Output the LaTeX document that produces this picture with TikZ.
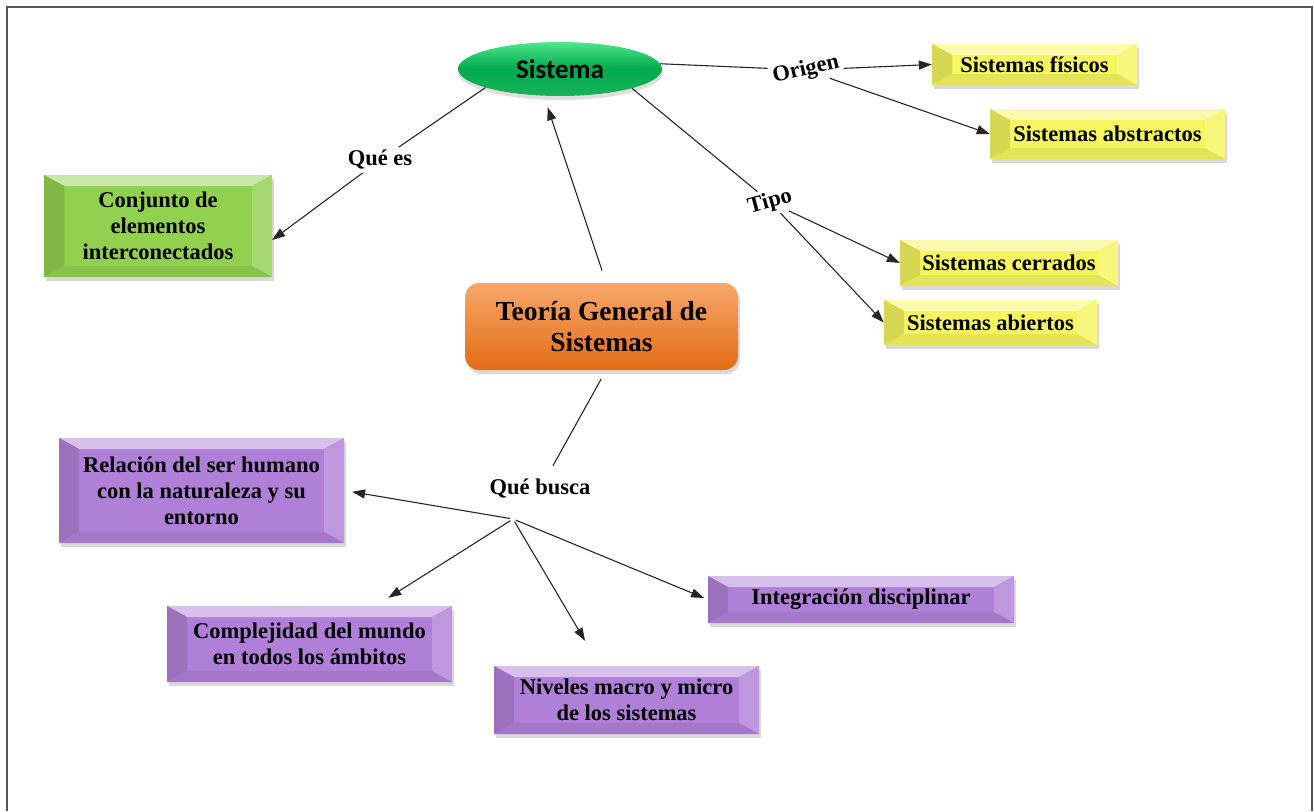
\documentclass[tikz,border=0pt]{standalone}
\usepackage{fontspec}
\setmainfont{Liberation Serif}
\newfontfamily\sysfont{Carlito}
\usetikzlibrary{arrows.meta, positioning, shapes.geometric, shadows}

\definecolor{LeafGreen}{RGB}{146,208,80}
\definecolor{SysGreen}{RGB}{0,170,75}
\definecolor{SysGreenTop}{RGB}{80,230,140}
\definecolor{Tangerine}{RGB}{228,108,22}
\definecolor{TangerineTop}{RGB}{246,168,105}
\definecolor{Lemon}{RGB}{245,245,95}
\definecolor{Lilac}{RGB}{176,128,216}
\definecolor{FrameGray}{RGB}{85,85,85}

\newcommand{\bevx}{20pt}
\newcommand{\bevy}{11pt}
\newcommand{\boxfont}{\bfseries\fontsize{22.5pt}{26pt}\selectfont}

\tikzset{
  bevelbox/.style={rectangle, inner sep=0pt, fill=#1, align=center, font=\boxfont,
    drop shadow={shadow xshift=2pt, shadow yshift=-4pt, opacity=0.3},
    path picture={
      \fill[#1!50!white] (path picture bounding box.north west) -- (path picture bounding box.north east)
        -- ([xshift=-\bevx,yshift=-\bevy]path picture bounding box.north east)
        -- ([xshift=\bevx,yshift=-\bevy]path picture bounding box.north west) -- cycle;
      \fill[#1!88!black] (path picture bounding box.north west) -- ([xshift=\bevx,yshift=-\bevy]path picture bounding box.north west)
        -- ([xshift=\bevx,yshift=\bevy]path picture bounding box.south west) -- (path picture bounding box.south west) -- cycle;
      \fill[#1!82!white] (path picture bounding box.north east) -- ([xshift=-\bevx,yshift=-\bevy]path picture bounding box.north east)
        -- ([xshift=-\bevx,yshift=\bevy]path picture bounding box.south east) -- (path picture bounding box.south east) -- cycle;
      \fill[#1!93!black] (path picture bounding box.south west) -- ([xshift=\bevx,yshift=\bevy]path picture bounding box.south west)
        -- ([xshift=-\bevx,yshift=\bevy]path picture bounding box.south east) -- (path picture bounding box.south east) -- cycle;
    }},
  link/.style={line width=1.1pt, draw=black!85},
  arr/.style={link, -{Triangle[length=13pt,width=9pt]}},
  lbl/.style={font=\boxfont, inner sep=3pt}
}

\begin{document}
\begin{tikzpicture}[x=1pt, y=-1pt]
  \useasboundingbox (0,0) rectangle (1314,811);
  \draw[FrameGray, line width=2pt] (7,811) -- (7,7) -- (1312,7) -- (1312,811);

  % centre and first level
  \node[ellipse, minimum width=204pt, minimum height=54pt, inner sep=0pt,
        top color=SysGreenTop, bottom color=SysGreen!90!white, middle color=SysGreen,
        drop shadow={shadow xshift=1pt, shadow yshift=-4pt, opacity=0.25},
        font=\sysfont\bfseries\fontsize{27pt}{30pt}\selectfont] (sistema) at (560,69) {Sistema};
  \node[rectangle, rounded corners=14pt, minimum width=273pt, minimum height=87pt, inner sep=0pt,
        top color=TangerineTop, bottom color=Tangerine, align=center,
        drop shadow={shadow xshift=2pt, shadow yshift=-4pt, opacity=0.3},
        font=\bfseries\fontsize{27.5pt}{31pt}\selectfont] (tgs) at (601.5,326.5) {Teoría General de\\Sistemas};

  \node[bevelbox=LeafGreen, minimum width=228pt, minimum height=102pt] (conjunto) at (158,226) {Conjunto de\\elementos\\interconectados};

  % Origen / Tipo
  \node[bevelbox=Lemon, minimum width=205pt, minimum height=41pt] (fisicos) at (1034.5,64.5) {Sistemas físicos};
  \node[bevelbox=Lemon, minimum width=235pt, minimum height=50pt] (abstractos) at (1107.5,134) {Sistemas abstractos};
  \node[bevelbox=Lemon, minimum width=218pt, minimum height=46pt] (cerrados) at (1009,263) {Sistemas cerrados};
  \node[bevelbox=Lemon, minimum width=213pt, minimum height=45pt] (abiertos) at (990.5,322.5) {Sistemas abiertos};

  % Que busca
  \node[bevelbox=Lilac, minimum width=285pt, minimum height=105pt] (relacion) at (201.5,490.5) {Relación del ser humano\\con la naturaleza y su\\entorno};
  \node[bevelbox=Lilac, minimum width=285pt, minimum height=76pt] (complejidad) at (309.5,644) {Complejidad del mundo\\en todos los ámbitos};
  \node[bevelbox=Lilac, minimum width=265pt, minimum height=68pt] (niveles) at (626.5,700) {Niveles macro y micro\\de los sistemas};
  \node[bevelbox=Lilac, minimum width=306pt, minimum height=47pt] (integracion) at (861,599.5) {Integración disciplinar};

  % link words
  \node[lbl] (quees) at (380,160) {Qué es};
  \node[lbl, rotate=13] (origen) at (806,70) {Origen};
  \node[lbl, rotate=15] (tipo) at (770,202) {Tipo};
  \node[lbl] (quebusca) at (540,489) {Qué busca};
  \coordinate (hub) at (513,519);

  \draw[link] (sistema.194) -- (quees);
  \draw[arr] (quees) -- (conjunto.-7);
  \draw[arr, shorten <=13pt, shorten >=12pt] (tgs.84) -- (sistema.239);
  \draw[link] (sistema.3) -- (origen);
  \draw[arr] (origen) -- (fisicos.west);
  \draw[arr] (origen) -- (abstractos.west);
  \draw[link] (sistema.-15) -- (tipo);
  \draw[arr] (tipo) -- (cerrados.west);
  \draw[arr] (tipo) -- (abiertos.west);
  \draw[link, shorten <=10pt, shorten >=12pt] (tgs.-84) -- (quebusca);
  \draw[arr, shorten <=3pt, shorten >=8pt] (hub) -- (relacion.east);
  \draw[arr, shorten <=3pt, shorten >=15pt] (hub) -- (complejidad.30);
  \draw[arr, shorten <=3pt, shorten >=29pt] (hub) -- (niveles.128);
  \draw[arr, shorten <=3pt, shorten >=4pt] (hub) -- (integracion.west);
\end{tikzpicture}
\end{document}
